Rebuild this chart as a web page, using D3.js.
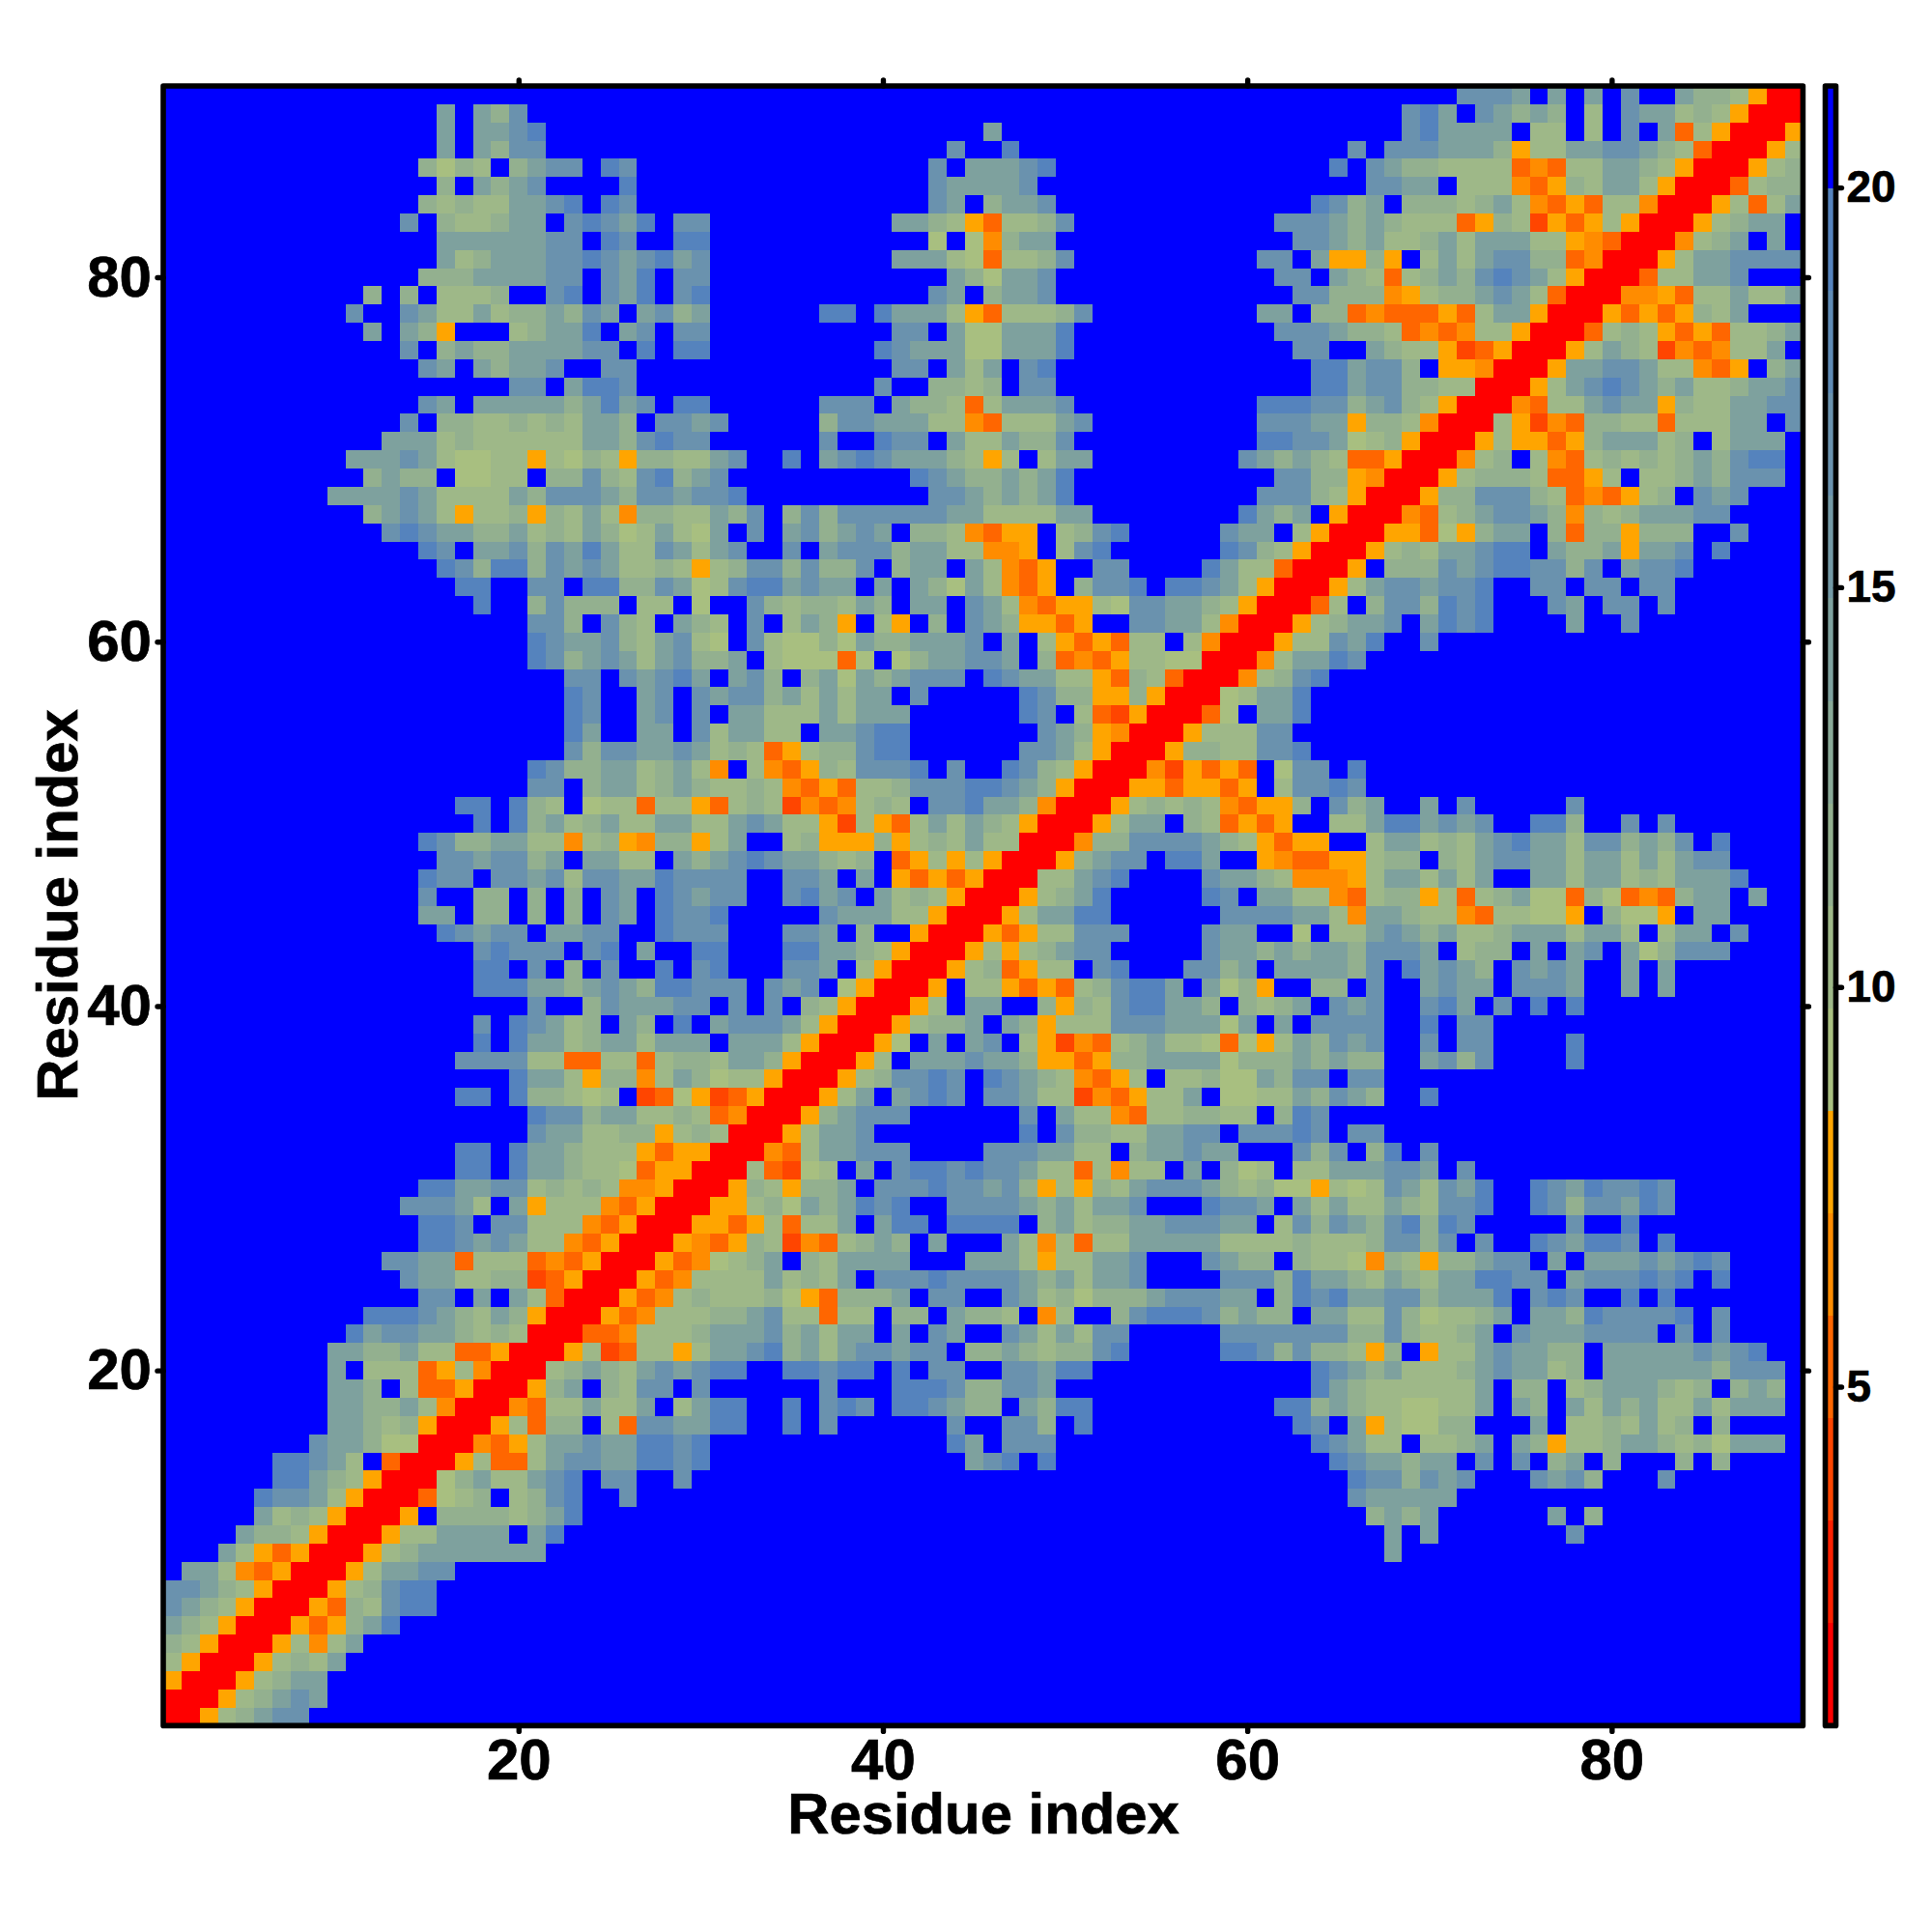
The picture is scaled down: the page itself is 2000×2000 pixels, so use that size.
<!DOCTYPE html>
<html><head><meta charset="utf-8">
<script src="https://cdn.jsdelivr.net/npm/d3@7"></script>
<style>html,body{margin:0;padding:0;background:#fff}svg{display:block}text{font-family:"Liberation Sans",Arial,sans-serif;font-weight:bold;fill:#000}</style>
</head><body><div id="chart"></div>
<script>
// Upper-left triangle of the symmetric distance map, from residue 90 down to 1.
// Each entry lists "startColumn:cells"; columns not listed are above the top of the colour range.
const distanceRows = [
"72:tttuBuBuBtBBuvvwARR",
"16:uBuvt 69:tsuBtuvuvBwBtuuwvwARR",
"16:uBuuts 46:u 69:tsuuuuBwwBwBtBuowARR",
"16:uBuvtt 44:t 47:s 66:tBtttuuuvAwwuuttuvwoRR",
"15:vxvwBvuttBst 43:tBuuuts 65:sBtuvvwwwwoOowwuuvwARR",
"16:vBuvut 26:s 43:tuuuut 67:ttuuBwwwOoAvwuuwARR",
"15:vwvwwuutsBst 43:tuBvuut 64:stvuBvvvwvuwOoAowwORR",
"14:tBvwwvuuBtstusBtt 41:uuvwAowwvt 62:tttuvuvwwwoAvwrAoAwARR",
"16:uuuuuuttBstBBss 43:xBxOvuu 63:ttuvuwwvuwuuuwwAOoRR",
"16:uwvuuuttstutsut 41:uuuwxowwvt 61:ttBuAAvABwuwuttvvoORR",
"15:vvvuuuuttBtusBtt 44:uvxuut 62:ttBuvwowvuvtstuwARR",
"12:vBvBwwwvBBtsBtusBts 43:tuBvuut 63:ttvvvOAwvvutuwoRR",
"11:tBBtuwwuwvvuvtuButvu 37:ssBsuuuwAowwwvt 61:uuBvvoOoooAowuuARR",
"12:uBuvABBBwvuusButBtt 41:ttBuxxuuus 62:tttuvvwoOoOwwARR",
"14:tBvuvvuuuuttBsBss 40:stuuuxxuuus 63:ttBBuvwwAroARR",
"15:tuBuvuutBBtt 41:ttBuwuBts 64:ssuttvBAAORR",
"20:ttBusst 40:tBBvvwvBtt 64:ssuttvvwwRR",
"15:tuBuuuuuvusutBss 37:tttBuvvwowuuut 61:sssttvutvwARR",
"14:tBvvwwvwvwuuvBttut 37:vttuuuwwOowwwut 61:tttuuAvvwORR",
"13:uuuwvwwwwwwuuvtstt 37:tBBsttBuwwuvvt 61:ssttuxwvARR",
"11:uuutuwxxwwAwxvwAvvwwu 32:t 35:s 37:utstuuuvwAwBwuu 60:t 61:uvuvwooARR",
"12:vuvvBxxwwBvvtvwtsvut 42:stuvvuvus 62:ttvvAORR",
"10:uuuutuwwwwuvtttuvttutts 43:ttuvuvus 61:tttvwARR",
"12:vutuwAwwvAvwuwOvvwwu 32:vtBvtvttttttuuwwwwuu 60:s 61:uvuBARR",
"13:tstuuvvuwvwuvxwuwxu 33:tButvutuBvvwOoAABwvts 59:tu 61:uBwARR",
"15:stBuutvtusuwwtuwu 32:tBBtButttvuuwwOOABwts 59:st 61:vwARR",
"16:stvssvtutuwwvwA 31:wvttvtvvtBvuuBuwOoABBtt 58:suw 61:woRR",
"17:ssBBttBssvvtuxw 32:tssutuuBuBuvxuwOoABvttsBsstuw 61:ARR",
"18:s 21:vtvvvBwwBx 33:tvwvvwuvBuuBtuwOoAAwxttuuvwA 61:RR",
"21:ttvBtvwBuvw 33:tBwuvABwABvBtuvAAoABBttuuwORR",
"21:stuutvwutwx 33:twxxvxuvvuuutBuBwAoAowwBwORR",
"21:stvutuwutvv 32:uBwxxxoxBxvuuttuBvoOoAwwxxRR",
"23:ttBtutsu 32:utvBvuxuvuttt 46:stuuwwAovwoRR",
"23:stBButBtu 32:ttvuwuwuuBt 48:stvvAAvARR",
"23:stBButBt 32:uuwwwuwuuu 48:stBworARR",
"23:suBBuuBtw 32:uuwwBuutss 49:tuvAORR",
"23:tvttuutuw 32:vwoAwvvtss 48:ttuwARR",
"21:stvvuuwvuwO 33:wOoAvwtttsBtBBstvwARR",
"21:ttBvuuwvuvw 32:wvwOoAowwvtttsstuvARR",
"17:ssBsvwBxwwowwAo 32:wvwrOoOwvwBttsuuvORR",
"18:sBsvuwvuwwuuww 32:utuwwArwAowuwuvwARR",
"15:stvvuuwwOwvAOvvAw 32:uBBwvAAAvAwvwuwwRR",
"16:ttuttvuBuuwwBuvu 32:tstuuvwvBoAwAwARR",
"15:sttBttutwttuusttt 32:tBBttuBuBAoAoARR",
"15:tBBvvBvBvBtuBstut 32:tBBtsutBuwvwARR",
"15:uuBvvBvBvBtuBstts 37:tuuuwwARR",
"16:stuttBuuttBBsttt 35:ttuBvBBARR",
"18:tstttBtsBuBBss 35:ssuuvwARR",
"18:ssBtBvBtBBsBts 35:ttuBwARR",
"18:sssuuvutuvssttt 34:tutBxARR",
"21:tBBvtuuuttB 32:tBtBvwARR",
"18:tBstuwvBuvBsBu 32:tttuwARR",
"18:sBsuuwvuuwuuuB 32:uuuwARR",
"17:ttttwwoowwowvvw 32:uuvARR",
"20:suuwAvvOwuvx 32:wwARR",
"17:ssBsvvwxwBroxAr 32:oARR",
"21:sttvuuwwvwo 32:ORR",
"21:tuuwwvvAwvw 32:RR",
"17:ssBsuuvwwwAoAARR",
"17:ssBsuuvwwxoAARR",
"15:ssuuttwvwvwOOARR",
"14:tttuwBuAwwwOoARR",
"15:sstBttwwwOoARR",
"15:sstutuwwOoARR",
"13:ttuuowwwoOoARR",
"14:tuuwwvvroARR",
"15:ttBuBuwoRR",
"12:ssstuvwuvARR",
"11:suttuuvwvwRR",
"10:uuvvuwwooARR",
"10:uBwwwoAwORR",
"10:uuvBwooARR",
"10:uuvvuwORR",
"10:uuvwvARR",
"9:tuuvxxRR",
"7:sstuwBoRR",
"7:ssuvwARR",
"6:sttuwARR",
"6:uwvwARR",
"5:uvvwARR",
"4:uwAoARR",
"2:uuwOoARR",
"1:ttuvwARR",
"1:tuvwARR",
"1:uvwARR",
"1:vwARR",
"1:wARR",
"1:ARR",
"1:RR",
"1:R"
];
const cellCodes = ["R","r","o","O","A","x","w","v","u","t","s","B"];
const cellValues = [1.5,4,5.2,6.5,7.8,9.1,10.4,12,14.2,16.8,19.4,21];
const axisTicks = [20,40,60,80];
const colorbarTicks = [5,10,15,20];
const bandColors = ["#ff0000","#ff2000","#ff4500","#ff6600","#ff8c00","#ffa500",
  "#a8bf80","#9eb888","#93b08f","#89a997","#7ea19e","#749aa6","#6a92ae","#5f8bb5","#5583bd","#0000ff"];
const valueRange = [0.76,21.27];
const residueCount = 90;
const axisTitle = "Residue index";

const code2val = new Map(cellCodes.map((c,i)=>[c,cellValues[i]]));
const W=2000,H=2000;
const svg=d3.select("#chart").append("svg").attr("width",W).attr("height",H);
const x=d3.scaleLinear().domain([0.5,residueCount+0.5]).range([169,1866.4]);
const y=d3.scaleLinear().domain([0.5,residueCount+0.5]).range([1786.4,89]);
const color=d3.scaleQuantize().domain(valueRange).range(bandColors);

const grid=new Map();
distanceRows.forEach((spec,i)=>{
  const row=residueCount-i;
  spec.split(" ").forEach(seg=>{
    const [start,cells]=seg.split(":");
    [...cells].forEach((ch,k)=>{
      const col=+start+k;
      if(col<=row) grid.set(row+"_"+col,code2val.get(ch));
    });
  });
});
const cells=[];
for(let r=1;r<=residueCount;r++)for(let c=1;c<=residueCount;c++){
  const hi=Math.max(r,c),lo=Math.min(r,c);
  const v=grid.has(hi+"_"+lo)?grid.get(hi+"_"+lo):cellValues[cellValues.length-1];
  cells.push({r,c,v});
}
const px=v=>Math.round(v);
svg.append("g").selectAll("rect").data(cells).join("rect")
  .attr("x",d=>px(x(d.c-0.5))).attr("y",d=>px(y(d.r+0.5)))
  .attr("width",d=>px(x(d.c+0.5))-px(x(d.c-0.5)))
  .attr("height",d=>px(y(d.r-0.5))-px(y(d.r+0.5)))
  .attr("fill",d=>color(d.v)).attr("shape-rendering","crispEdges");

const frame={stroke:"#000","stroke-width":5.6,"stroke-linejoin":"round",fill:"none"};
function styleAxis(g,size){
  g.select(".domain").remove();
  g.selectAll(".tick line").attr("stroke","#000").attr("stroke-width",5.4).attr("stroke-linecap","round");
  g.selectAll(".tick text").attr("font-size",size).attr("font-family","Liberation Sans").attr("font-weight","bold").attr("fill","#000")
    .attr("stroke","#000").attr("stroke-width",0.7);
}
const fmt=d3.format("d");
const bottom=svg.append("g").attr("transform","translate(0,1786.4)")
  .call(d3.axisBottom(x).tickValues(axisTicks).tickFormat(fmt).tickSize(6).tickPadding(7));
styleAxis(bottom,60);
const top_=svg.append("g").attr("transform","translate(0,89)")
  .call(d3.axisTop(x).tickValues(axisTicks).tickFormat("").tickSize(6));
styleAxis(top_,60);
const left=svg.append("g").attr("transform","translate(169,0)")
  .call(d3.axisLeft(y).tickValues(axisTicks).tickFormat(fmt).tickSize(6).tickPadding(6));
styleAxis(left,60);
const right=svg.append("g").attr("transform","translate(1866.4,0)")
  .call(d3.axisRight(y).tickValues(axisTicks).tickFormat("").tickSize(6));
styleAxis(right,60);
svg.append("rect").attr("x",169).attr("y",89).attr("width",1697.4).attr("height",1697.4)
  .attr("stroke",frame.stroke).attr("stroke-width",frame["stroke-width"]).attr("stroke-linejoin",frame["stroke-linejoin"]).attr("fill",frame.fill);

svg.append("text").attr("x",1018).attr("y",1898).attr("text-anchor","middle").attr("font-size",59.8).attr("stroke","#000").attr("stroke-width",0.7).text(axisTitle);
svg.append("text").attr("transform","translate(80,937) rotate(-90)").attr("text-anchor","middle").attr("font-size",59.8).attr("stroke","#000").attr("stroke-width",0.7).text(axisTitle);

// colour bar
const cy=d3.scaleLinear().domain(valueRange).range([1786.4,89]);
const step=(valueRange[1]-valueRange[0])/bandColors.length;
svg.append("g").selectAll("rect").data(bandColors).join("rect")
  .attr("x",1889.5).attr("width",11)
  .attr("y",(d,i)=>cy(valueRange[0]+(i+1)*step))
  .attr("height",(d,i)=>cy(valueRange[0]+i*step)-cy(valueRange[0]+(i+1)*step))
  .attr("fill",d=>d).attr("shape-rendering","crispEdges");
const cb=svg.append("g").attr("transform","translate(1900.5,0)")
  .call(d3.axisRight(cy).tickValues(colorbarTicks).tickFormat(fmt).tickSize(6).tickPadding(5));
styleAxis(cb,46);
svg.append("rect").attr("x",1889.5).attr("y",89).attr("width",11).attr("height",1697.4)
  .attr("stroke",frame.stroke).attr("stroke-width",frame["stroke-width"]).attr("stroke-linejoin",frame["stroke-linejoin"]).attr("fill",frame.fill);
</script></body></html>
